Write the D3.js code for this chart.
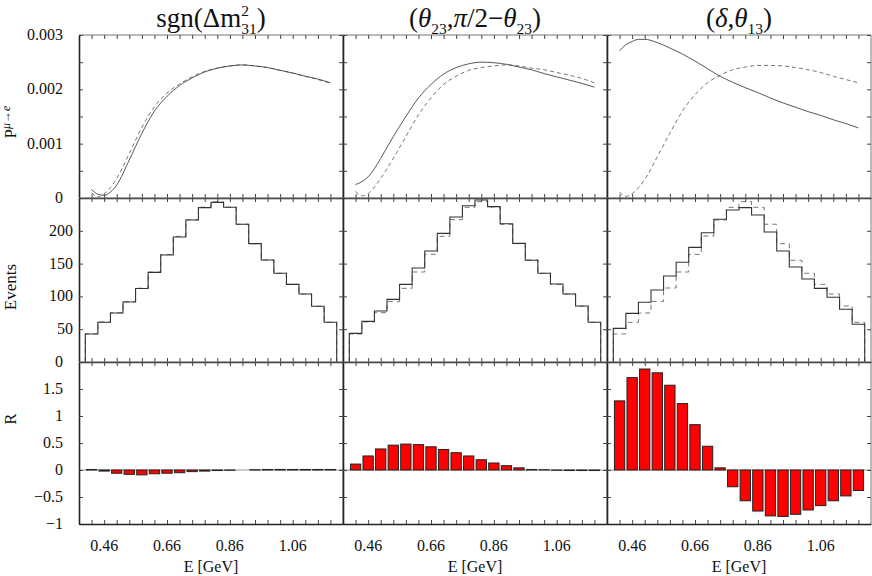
<!DOCTYPE html>
<html>
<head>
<meta charset="utf-8">
<script src="https://cdn.jsdelivr.net/npm/d3@7"></script>
<style>
  body { margin: 0; background: #fff; }
  svg { display: block; }
  text { font-family: "Liberation Serif", "DejaVu Serif", serif; fill: #111; }
</style>
</head>
<body>
<div class="canvas"></div>
<script>
// ---- data ----
// bin centres in GeV (bins are 0.04 wide)
const energies = [0.42, 0.46, 0.50, 0.54, 0.58, 0.62, 0.66, 0.70, 0.74, 0.78,
                  0.82, 0.86, 0.90, 0.94, 0.98, 1.02, 1.06, 1.10, 1.14, 1.18];
// energies for the probability curves
const curveE = [0.42, 0.44, 0.46, 0.48, 0.50, 0.54, 0.58, 0.62, 0.66, 0.70, 0.74,
                0.78, 0.82, 0.86, 0.90, 0.94, 0.98, 1.02, 1.06, 1.10, 1.14, 1.18];

const probSgnSolid  = [0.000155, 0.00007, 0.00005, 0.00011, 0.00024, 0.00070, 0.00119, 0.00160, 0.00187, 0.00207, 0.00221,
                       0.00232, 0.00239, 0.00243, 0.00245, 0.00243, 0.00240, 0.00235, 0.00230, 0.00224, 0.00219, 0.00212];
const probSgnDashed = [0.00010, 0.00002, 0.00008, 0.00019, 0.00036, 0.00082, 0.00130, 0.00168, 0.00193, 0.00210, 0.00223,
                       0.00233, 0.00239, 0.00243, 0.00245, 0.00243, 0.00240, 0.00235, 0.00230, 0.00224, 0.00218, 0.00211];
const probOctSolid  = [0.000247, 0.00030, 0.00039, 0.00054, 0.00073, 0.00113, 0.00150, 0.00184, 0.00209, 0.00228, 0.00240,
                       0.00247, 0.00250, 0.00249, 0.00246, 0.00241, 0.00236, 0.00229, 0.00223, 0.00217, 0.00211, 0.00204];
const probOctDashed = [0.00012, 0.00004, 0.00008, 0.00020, 0.00036, 0.00073, 0.00113, 0.00153, 0.00184, 0.00209, 0.00224,
                       0.00235, 0.00240, 0.00243, 0.00245, 0.00243, 0.00239, 0.00236, 0.00231, 0.00226, 0.00220, 0.00212];
const probCPSolid   = [0.00271, 0.00282, 0.00288, 0.00292, 0.00292, 0.00286, 0.00276, 0.00265, 0.00252, 0.00238, 0.00224,
                       0.00213, 0.00203, 0.00194, 0.00184, 0.00175, 0.00167, 0.00159, 0.00152, 0.00144, 0.00137, 0.00129];
const probCPDashed  = [0.00011, 0.00003, 0.00008, 0.00019, 0.00034, 0.00076, 0.00119, 0.00160, 0.00190, 0.00212, 0.00226,
                       0.00236, 0.00241, 0.00244, 0.00244, 0.00243, 0.00240, 0.00236, 0.00231, 0.00224, 0.00218, 0.00212];

const eventsSgnSolid  = [42.7, 60.5, 74.7, 91.5, 112, 136.7, 163, 190.5, 216.5, 235.3,
                         243.4, 235.8, 210, 180.4, 155.5, 135.2, 118.4, 103.7, 84.9, 60.5];
const eventsSgnDashed = [43, 61, 75, 92, 112.5, 137, 164, 191.5, 217, 236,
                         244, 236, 210, 180.4, 155.3, 135.2, 118.4, 103.7, 85, 60.5];
const eventsOctSolid  = [43.7, 62, 77.7, 95.5, 118.4, 143.3, 169.2, 196.1, 221, 238.3,
                         247, 236.8, 210.8, 180.9, 155, 135.2, 118.9, 103.7, 85.4, 60.5];
const eventsOctDashed = [42.7, 61, 75.2, 92, 112.3, 137.2, 164.1, 191.6, 217, 235.8,
                         244.4, 236.3, 210, 180.4, 155.5, 135.2, 118.4, 103.7, 85, 60.5];
const eventsCPSolid   = [51.3, 74.2, 91, 109.8, 131.1, 152, 174.8, 197.1, 217.5, 231.7,
                         235.3, 224.1, 198.2, 169.2, 144.8, 126.5, 112.3, 98.6, 80.3, 57.5];
const eventsCPDashed  = [42.7, 60.5, 74.7, 92.4, 112.8, 137.2, 164, 192, 216.5, 235.8,
                         244.4, 235.8, 210, 180.4, 155, 135.2, 118.4, 103.7, 85.4, 60.5];

const ratioSgn = [0.01, -0.02, -0.06, -0.08, -0.09, -0.07, -0.06, -0.05, -0.03, -0.02,
                  -0.01, -0.005, 0, 0.005, 0.01, 0.01, 0.01, 0.01, 0.01, 0.01];
const ratioOct = [0.11, 0.26, 0.39, 0.46, 0.48, 0.47, 0.43, 0.38, 0.32, 0.26,
                  0.19, 0.13, 0.08, 0.04, 0.01, 0.005, -0.005, -0.01, -0.01, -0.01];
const ratioCP  = [1.28, 1.71, 1.87, 1.80, 1.57, 1.23, 0.84, 0.44, 0.04, -0.31,
                  -0.57, -0.76, -0.85, -0.86, -0.82, -0.74, -0.66, -0.57, -0.48, -0.38];

const pTicks = [0, 0.001, 0.002, 0.003];
const eventTicks = [0, 50, 100, 150, 200];
const rTicks = [-1, -0.5, 0, 0.5, 1, 1.5];
const xTickLabels = [0.46, 0.66, 0.86, 1.06];

const columns = [
  { prob: [probSgnSolid, probSgnDashed], events: [eventsSgnSolid, eventsSgnDashed], ratio: ratioSgn },
  { prob: [probOctSolid, probOctDashed], events: [eventsOctSolid, eventsOctDashed], ratio: ratioOct },
  { prob: [probCPSolid, probCPDashed],   events: [eventsCPSolid, eventsCPDashed],   ratio: ratioCP }
];

// ---- layout ----
const width = 872, height = 576;
const colX = [79, 343, 607];
const colW = 264;
const rowY = [35, 198, 362, 524];
const binW = 0.04;

const svg = d3.select('.canvas')
  .append('svg')
    .attr('width', width)
    .attr('height', height);

// y scales shared across a row
const yP = d3.scaleLinear().domain([0, 0.003]).range([rowY[1], rowY[0]]);
const yEv = d3.scaleLinear().domain([0, 250]).range([rowY[2], rowY[1]]);
const yR = d3.scaleLinear().domain([-1, 2]).range([rowY[3], rowY[2]]);
const rows = [
  { y: yP, ticks: d3.range(0, 0.00301, 0.0005) },
  { y: yEv, ticks: d3.range(0, 251, 50) },
  { y: yR, ticks: d3.range(-1, 2.01, 0.5) }
];

const plots = svg.append('g');
const frames = svg.append('g');

columns.forEach((col, ci) => {
  const x = d3.scaleLinear().domain([0.38, 1.22]).range([colX[ci], colX[ci] + colW]);
  const g = plots.append('g');

  // top row: probability curves
  const line = d3.line()
    .x((d, i) => x(curveE[i]))
    .y(d => yP(d))
    .curve(d3.curveMonotoneX);
  g.append('path').datum(col.prob[1])
    .attr('d', line).attr('fill', 'none')
    .attr('stroke', '#666').attr('stroke-width', 0.9).attr('stroke-dasharray', '4,3');
  g.append('path').datum(col.prob[0])
    .attr('d', line).attr('fill', 'none')
    .attr('stroke', '#444').attr('stroke-width', 0.9);

  // middle row: event histograms (step lines)
  const stepPts = vals => {
    const pts = [[energies[0] - binW / 2, 0]];
    vals.forEach((v, i) => pts.push([energies[i] - binW / 2, v]));
    pts.push([energies[energies.length - 1] + binW / 2, vals[vals.length - 1]]);
    pts.push([energies[energies.length - 1] + binW / 2, 0]);
    return pts;
  };
  const stepLine = d3.line()
    .x(d => x(d[0]))
    .y(d => yEv(d[1]))
    .curve(d3.curveStepAfter);
  g.append('path').datum(stepPts(col.events[1]))
    .attr('d', stepLine).attr('fill', 'none')
    .attr('stroke', '#777').attr('stroke-width', 1).attr('stroke-dasharray', '5,4');
  g.append('path').datum(stepPts(col.events[0]))
    .attr('d', stepLine).attr('fill', 'none')
    .attr('stroke', '#333').attr('stroke-width', 1.1);

  // bottom row: zero line + bars
  g.append('line')
    .attr('x1', colX[ci]).attr('x2', colX[ci] + colW)
    .attr('y1', yR(0)).attr('y2', yR(0))
    .attr('stroke', '#999').attr('stroke-width', 1);
  const barW = x(binW * 0.82) - x(0);
  g.selectAll('rect.bar')
    .data(col.ratio)
    .enter()
    .append('rect')
      .attr('class', 'bar')
      .attr('x', (d, i) => x(energies[i]) - barW / 2)
      .attr('y', d => yR(Math.max(d, 0)))
      .attr('width', barW)
      .attr('height', d => Math.abs(yR(d) - yR(0)))
      .attr('fill', '#ff0000')
      .attr('stroke', '#222')
      .attr('stroke-width', 1);

  // frames and ticks for each panel
  rows.forEach((row, ri) => {
    const top = rowY[ri], bottom = rowY[ri + 1];
    const f = frames.append('g');
    // top and right edges (thin grey)
    f.append('path')
      .attr('d', `M${colX[ci]},${top}H${colX[ci] + colW}V${bottom}`)
      .attr('fill', 'none').attr('stroke', '#777').attr('stroke-width', 1);

    // inward ticks left / right
    const leftAxis = f.append('g').attr('transform', `translate(${colX[ci]},0)`)
      .call(d3.axisLeft(row.y).tickValues(row.ticks).tickSize(-4).tickSizeOuter(0).tickFormat(''));
    f.append('g').attr('transform', `translate(${colX[ci] + colW},0)`)
      .call(d3.axisRight(row.y).tickValues(row.ticks).tickSize(-4).tickSizeOuter(0).tickFormat(''))
      .select('.domain').remove();
    leftAxis.select('.domain').attr('stroke', '#222').attr('stroke-width', 1.6);

    // inward ticks top / bottom
    f.append('g').attr('transform', `translate(0,${top})`)
      .call(d3.axisTop(x).tickValues(energies).tickSize(-4).tickSizeOuter(0).tickFormat(''))
      .select('.domain').remove();
    const bottomAxis = f.append('g').attr('transform', `translate(0,${bottom})`)
      .call(d3.axisBottom(x).tickValues(energies).tickSize(-4).tickSizeOuter(0).tickFormat(''));
    bottomAxis.select('.domain').attr('stroke', '#222').attr('stroke-width', 1.6);

    f.selectAll('.tick line').attr('stroke', '#444');
  });

  // x tick labels and axis title
  frames.append('g').selectAll('text')
    .data(xTickLabels)
    .enter()
    .append('text')
      .attr('x', d => x(d))
      .attr('y', 551)
      .attr('text-anchor', 'middle')
      .attr('font-size', 16)
      .text(d => d3.format('.2f')(d));
  frames.append('text')
    .attr('x', colX[ci] + colW / 2)
    .attr('y', 572)
    .attr('text-anchor', 'middle')
    .attr('font-size', 16)
    .text('E [GeV]');
});

// y tick labels
const yLabels = frames.append('g').attr('font-size', 16).attr('text-anchor', 'end');
pTicks.forEach(d => yLabels.append('text')
  .attr('x', 63).attr('y', yP(d) + 5).text(d === 0 ? '0' : d3.format('.3f')(d)));
eventTicks.forEach(d => yLabels.append('text')
  .attr('x', d === 0 ? 63 : 73).attr('y', yEv(d) + 5).text(d));
rTicks.forEach(d => yLabels.append('text')
  .attr('x', 63).attr('y', yR(d) + 5).text(d3.format('')(d)));

// y axis titles
const pTitle = svg.append('text')
  .attr('transform', `translate(16,122) rotate(-90)`)
  .attr('text-anchor', 'middle')
  .attr('font-size', 17);
pTitle.append('tspan').text('P');
pTitle.append('tspan').attr('dy', -6).attr('font-size', 12).attr('font-style', 'italic').text('μ→e');
svg.append('text')
  .attr('transform', `translate(16,287) rotate(-90)`)
  .attr('text-anchor', 'middle')
  .attr('font-size', 17)
  .text('Events');
svg.append('text')
  .attr('transform', `translate(16,419) rotate(-90)`)
  .attr('text-anchor', 'middle')
  .attr('font-size', 17)
  .text('R');

// column titles, built from pieces so sub/superscripts can be stacked
function columnTitle(cx, pieces) {
  const g = svg.append('g');
  let xPos = 0;
  pieces.forEach(p => {
    const size = p.sub || p.sup ? 15.5 : 27;
    const t = g.append('text')
      .attr('x', xPos)
      .attr('y', 27 + (p.sub ? 7 : 0) + (p.sup ? -11 : 0))
      .attr('font-size', size)
      .attr('font-style', p.it ? 'italic' : 'normal')
      .text(p.t);
    const w = t.node().getComputedTextLength();
    if (!p.stack) xPos += w;
  });
  const box = g.node().getBBox();
  g.attr('transform', `translate(${cx - box.x - box.width / 2},0)`);
}
columnTitle(colX[0] + colW / 2, [
  { t: 'sgn(Δm' }, { t: '2', sup: true, stack: true }, { t: '31', sub: true }, { t: ')' }
]);
columnTitle(colX[1] + colW / 2, [
  { t: '(' }, { t: 'θ', it: true }, { t: '23', sub: true }, { t: ',' }, { t: 'π', it: true },
  { t: '/2−' }, { t: 'θ', it: true }, { t: '23', sub: true }, { t: ')' }
]);
columnTitle(colX[2] + colW / 2, [
  { t: '(' }, { t: 'δ', it: true }, { t: ',' }, { t: 'θ', it: true }, { t: '13', sub: true }, { t: ')' }
]);
</script>
</body>
</html>
